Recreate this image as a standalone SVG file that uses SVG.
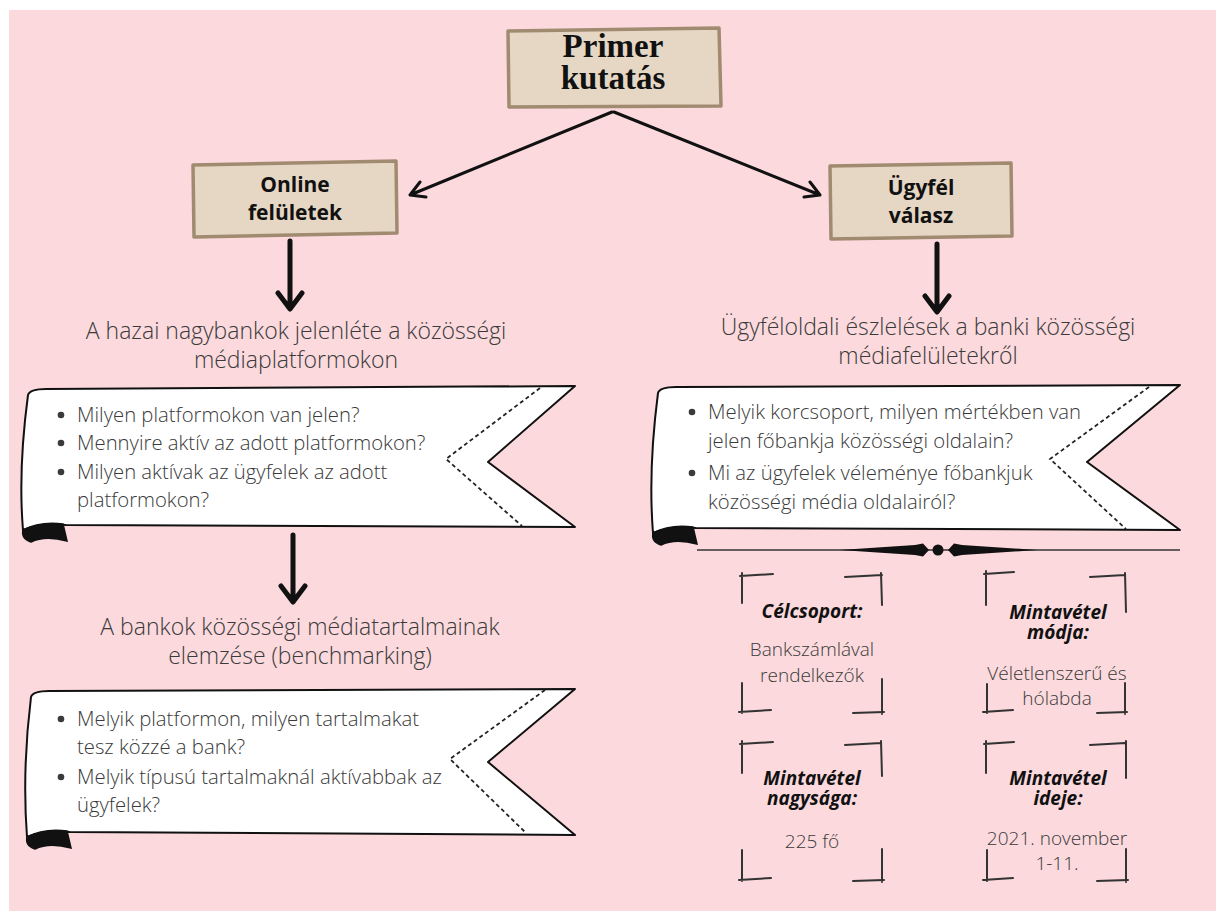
<svg xmlns="http://www.w3.org/2000/svg" width="1216" height="911" viewBox="0 0 1216 911">
<defs>
<style>
.bg{fill:#fbd9dd}
.tan{fill:#e6d6c4;stroke:#a08b70;stroke-width:3.5;stroke-linejoin:round}
.ttl{font-family:"Liberation Serif",serif;font-weight:bold;font-size:33px;fill:#111;text-anchor:middle}
.sub{font-family:"Open Sans","Liberation Sans",sans-serif;font-weight:bold;font-size:21px;fill:#111;text-anchor:middle}
.head{font-family:"Open Sans","Liberation Sans",sans-serif;font-weight:300;font-size:23px;fill:#3a3a3a;text-anchor:middle}
.bul{font-family:"Open Sans","Liberation Sans",sans-serif;font-weight:300;font-size:20.3px;fill:#3a3a3a}
.rib{fill:#fff;stroke:#111;stroke-width:2;stroke-linejoin:round}
.curl{fill:#111;stroke:#111;stroke-width:1.5}
.dash{fill:none;stroke:#222;stroke-width:1.8;stroke-dasharray:4 3}
.arr{fill:none;stroke:#111;stroke-width:3;stroke-linecap:round;stroke-linejoin:round}
.arrb{fill:none;stroke:#111;stroke-width:5;stroke-linecap:round;stroke-linejoin:round}
.brk{fill:none;stroke:#333;stroke-width:2;stroke-linecap:round}
.bt{font-family:"Open Sans","Liberation Sans",sans-serif;font-weight:bold;font-style:italic;font-size:19px;fill:#111;text-anchor:middle}
.bv{font-family:"Open Sans","Liberation Sans",sans-serif;font-weight:300;font-size:19px;fill:#3a3a3a;text-anchor:middle}
</style>
</defs>
<rect class="bg" x="9" y="10" width="1207" height="901"/>

<g id="connectors">
<path class="arr" d="M612,112 L410,195 M420,182 L410,195 L426,197"/>
<path class="arr" d="M614,112 L820,195 M804,197 L820,195 L810,182"/>
<path class="arrb" d="M290,241 L290,308 M278,293 L290,309 L302,293"/>
<path class="arrb" d="M937,244 L937,311 M925,296 L937,312 L949,296"/>
<path class="arrb" d="M293,535 L293,601 M281,586 L293,602 L305,586"/>
</g>

<g id="primer">
<path class="tan" d="M508,31 L719,28 L721,106 L509,107 Z"/>
<text class="ttl" x="613" y="57">Primer</text>
<text class="ttl" x="613" y="89">kutatás</text>
</g>

<g id="online">
<path class="tan" d="M193,165 L396,161 L397,233 L194,237 Z"/>
<text class="sub" x="295" y="192">Online</text>
<text class="sub" x="295" y="220">felületek</text>
</g>

<g id="ugyfel">
<path class="tan" d="M830,166 L1011,163 L1012,236 L831,239 Z"/>
<text class="sub" x="921" y="195">Ügyfél</text>
<text class="sub" x="921" y="223">válasz</text>
</g>

<g id="heading1">
<text class="head" x="296" y="339">A hazai nagybankok jelenléte a közösségi</text>
<text class="head" x="296" y="368">médiaplatformokon</text>
</g>

<g id="heading2">
<text class="head" x="928" y="335">Ügyféloldali észlelések a banki közösségi</text>
<text class="head" x="928" y="364">médiafelületekről</text>
</g>

<g id="heading3">
<text class="head" x="300" y="635">A bankok közösségi médiatartalmainak</text>
<text class="head" x="300" y="664">elemzése (benchmarking)</text>
</g>

<g id="ribbon1">
<path class="rib" d="M28,395 Q30,389 46,389 L575,386 L488,462 L575,527 L66,525 Q40,523 23,530 Q18,470 28,395 Z"/>
<path class="curl" d="M23,530 Q40,521 63,524 L67,541 Q45,535 31,542 Q21,539 23,530 Z"/>
<path class="dash" d="M540,388 L446,459 L522,526"/>
<g class="bul">
<circle cx="61" cy="415" r="3.3"/><circle cx="61" cy="443" r="3.3"/><circle cx="61" cy="472" r="3.3"/>
<text x="77" y="422">Milyen platformokon van jelen?</text>
<text x="77" y="450">Mennyire aktív az adott platformokon?</text>
<text x="77" y="479">Milyen aktívak az ügyfelek az adott</text>
<text x="77" y="507">platformokon?</text>
</g>
</g>

<g id="ribbon2">
<path class="rib" d="M658,393 Q660,387 676,387 L1180,385 L1087,462 L1180,530 L696,528 Q670,526 653,533 Q648,470 658,393 Z"/>
<path class="curl" d="M653,533 Q670,524 693,527 L697,544 Q675,538 661,545 Q651,542 653,533 Z"/>
<path class="dash" d="M1149,387 L1050,459 L1126,529"/>
<g class="bul">
<circle cx="692" cy="412" r="3.3"/><circle cx="692" cy="473" r="3.3"/>
<text x="708" y="419">Melyik korcsoport, milyen mértékben van</text>
<text x="708" y="448">jelen főbankja közösségi oldalain?</text>
<text x="708" y="480">Mi az ügyfelek véleménye főbankjuk</text>
<text x="708" y="509">közösségi média oldalairól?</text>
</g>
</g>

<g id="ribbon3">
<path class="rib" d="M31,697 Q33,691 49,691 L575,689 L488,762 L575,835 L70,832 Q44,830 27,837 Q22,770 31,697 Z"/>
<path class="curl" d="M27,837 Q44,828 67,831 L71,848 Q49,842 35,849 Q25,846 27,837 Z"/>
<path class="dash" d="M545,690 L450,759 L525,832"/>
<g class="bul">
<circle cx="61" cy="719" r="3.3"/><circle cx="61" cy="777" r="3.3"/>
<text x="77" y="726">Melyik platformon, milyen tartalmakat</text>
<text x="77" y="754">tesz közzé a bank?</text>
<text x="77" y="784">Melyik típusú tartalmaknál aktívabbak az</text>
<text x="77" y="812">ügyfelek?</text>
</g>
</g>

<g id="divider">
<line x1="697" y1="550" x2="1180" y2="550" stroke="#333" stroke-width="1.5"/>
<path d="M840,550 L915,545 L923,543.5 L929,550 L923,556.5 L915,555 Z" fill="#111"/>
<circle cx="938" cy="550" r="5.5" fill="#111"/>
<path d="M1037,550 L962,545 L954,543.5 L948,550 L954,556.5 L962,555 Z" fill="#111"/>
</g>

<g id="celcsoport">
<path class="brk" d="M742,603 L742,573 M740,576 L773,574 M845,577 L882,575 M881,573 L882,605 M742,683 L742,713 M739,712 L771,710 M853,713 L884,712 M882,679 L882,714"/>
<text class="bt" x="812" y="618">Célcsoport:</text>
<text class="bv" x="812" y="656">Bankszámlával</text>
<text class="bv" x="812" y="682">rendelkezők</text>
</g>

<g id="modja">
<path class="brk" d="M986,605 L986,571 M984,574 L1014,572 M1090,577 L1125,575 M1125,573 L1126,612 M987,684 L987,713 M983,712 L1013,710 M1097,713 L1127,712 M1125,683 L1125,714"/>
<text class="bt" x="1058" y="619">Mintavétel</text>
<text class="bt" x="1058" y="639">módja:</text>
<text class="bv" x="1057" y="680">Véletlenszerű és</text>
<text class="bv" x="1057" y="705">hólabda</text>
</g>

<g id="nagysaga">
<path class="brk" d="M742,773 L742,741 M740,744 L773,742 M845,745 L881,743 M881,741 L882,776 M742,850 L742,881 M739,880 L771,878 M853,881 L884,880 M882,849 L882,882"/>
<text class="bt" x="812" y="785">Mintavétel</text>
<text class="bt" x="812" y="805">nagysága:</text>
<text class="bv" x="812" y="848">225 fő</text>
</g>

<g id="ideje">
<path class="brk" d="M986,773 L986,741 M984,744 L1014,742 M1090,745 L1125,743 M1126,741 L1126,778 M987,850 L987,881 M983,880 L1013,878 M1097,881 L1128,880 M1126,849 L1126,882"/>
<text class="bt" x="1058" y="785">Mintavétel</text>
<text class="bt" x="1058" y="805">ideje:</text>
<text class="bv" x="1057" y="845">2021. november</text>
<text class="bv" x="1057" y="870">1-11.</text>
</g>
</svg>
